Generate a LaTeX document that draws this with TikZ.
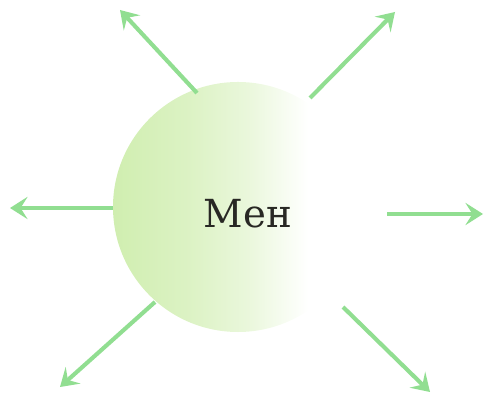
\documentclass[tikz,border=0pt]{standalone}
\usepackage{fontspec}
\setmainfont{DejaVu Serif}
\usepackage{tikz}
\usetikzlibrary{arrows.meta}

\definecolor{ballgreen}{RGB}{208,238,176}
\definecolor{raygreen}{RGB}{145,222,145}
\definecolor{wordgray}{RGB}{40,40,36}
\pgfdeclarehorizontalshading{menfade}{100bp}{color(0bp)=(ballgreen); color(25bp)=(ballgreen);
  color(40bp)=(ballgreen!75!white); color(52bp)=(ballgreen!45!white); color(64bp)=(white); color(100bp)=(white)}

\begin{document}
\begin{tikzpicture}[x=0.03cm, y=0.03cm,
    ray/.style={raygreen, line width=3.5pt, -{Stealth[length=15pt, width=19pt, inset=6pt]}},
    ball/.style={circle, minimum size=7.5cm, inner sep=0pt, shading=menfade}]
  \useasboundingbox (0,0) rectangle (485,398);
  % the shaded ball and its word
  \node[ball] (men) at (238,191) {};
  \node[wordgray, font=\fontsize{33}{38}\selectfont] (word) at (248,184) {Мен};
  % tails and tips of the rays
  \coordinate (nwA) at (197,305); \coordinate (nwB) at (120,388);
  \coordinate (neA) at (310,300); \coordinate (neB) at (395,386);
  \coordinate (wA) at (113,190);  \coordinate (wB) at (10,190);
  \coordinate (eA) at (387,184);  \coordinate (eB) at (483,184);
  \coordinate (swA) at (155,96);  \coordinate (swB) at (60,11);
  \coordinate (seA) at (343,91);  \coordinate (seB) at (430,6);
  % rays
  \foreach \r in {nw, ne, w, e, sw, se}
    \draw[ray] (\r A) -- (\r B);
\end{tikzpicture}
\end{document}
